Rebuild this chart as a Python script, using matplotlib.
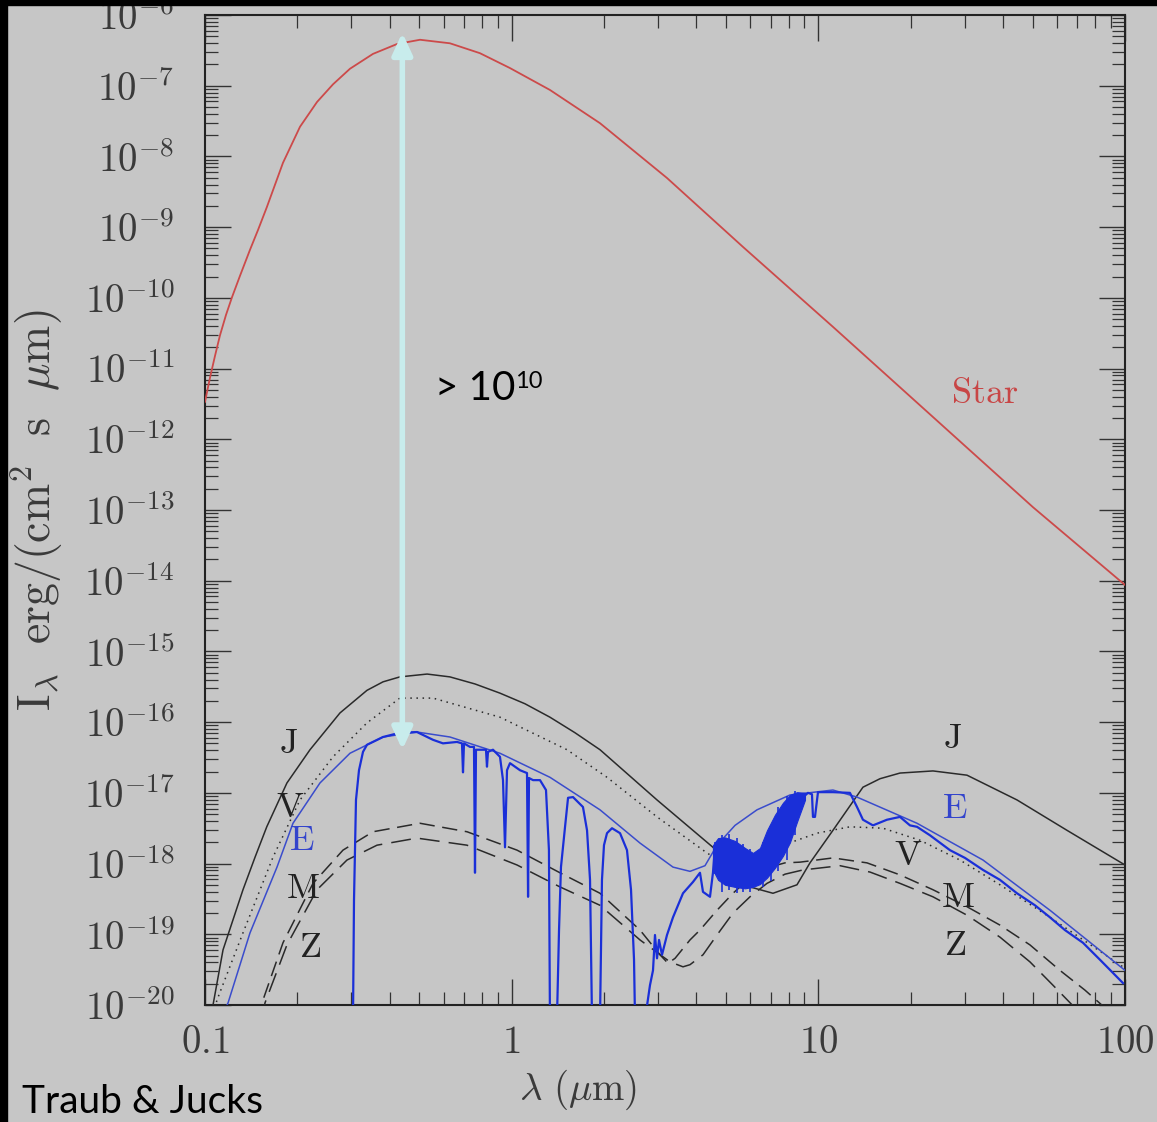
import numpy as np
import matplotlib
matplotlib.use('Agg')
import matplotlib.pyplot as plt
from matplotlib.patches import Rectangle
from matplotlib.ticker import LogLocator, NullFormatter

plt.rcParams['mathtext.fontset'] = 'cm'
plt.rcParams['font.family'] = ['DejaVu Serif']

# ---------------- data (wavelength in micron, log10 of I_lambda) ----------------
star_wl = [0.100, 0.1038, 0.1078, 0.1119, 0.1171, 0.1225, 0.1300, 0.1402, 0.1489, 0.159,
           0.1796, 0.2041, 0.2319, 0.2615, 0.297, 0.353, 0.423, 0.5024, 0.629, 0.788, 0.987,
           1.333, 1.941, 3.21, 5.68, 11.16, 23.65, 50.1, 100.0]
star_logI = [-11.47, -11.13, -10.82, -10.53, -10.24, -9.99, -9.69, -9.32, -9.04, -8.72,
             -8.09, -7.58, -7.23, -6.98, -6.76, -6.55, -6.41, -6.35, -6.40, -6.54, -6.75,
             -7.06, -7.53, -8.305, -9.28, -10.41, -11.685, -12.96, -14.06]

j_wl = [0.1046, 0.1062, 0.1145, 0.133, 0.1456, 0.159, 0.185, 0.220, 0.2462, 0.2755, 0.3375,
        0.3806, 0.432, 0.530, 0.629, 0.7593, 0.916, 1.105, 1.333, 1.609, 1.941, 2.978, 4.533,
        5.985, 7.114, 8.519, 9.392, 11.16, 13.98, 15.89, 18.46, 23.65, 30.53, 44.44, 64.70, 100.0]
j_logI = [-20.21, -20.0, -19.22, -18.37, -17.91, -17.48, -16.86, -16.39, -16.13, -15.87, -15.55,
          -15.43, -15.36, -15.32, -15.36, -15.46, -15.59, -15.74, -15.93, -16.15, -16.39, -17.10, -17.77,
          -18.33, -18.42, -18.30, -17.99, -17.53, -16.92, -16.80, -16.72, -16.69, -16.75, -17.10, -17.53, -18.02]

v_wl = [0.1054, 0.1094, 0.133, 0.1666, 0.2041, 0.2615, 0.3375, 0.432, 0.554, 0.916, 1.515,
        2.046, 2.978, 4.334, 5.349, 6.452, 7.670, 9.90, 12.68, 16.25, 21.45, 28.96, 39.10,
        56.92, 100.0]
v_logI = [-20.21, -19.93, -18.98, -17.91, -17.10, -16.49, -16.01, -15.66, -15.66, -15.93, -16.39,
          -16.78, -17.34, -17.85, -18.09, -17.95, -17.74, -17.57, -17.48, -17.50, -17.67, -17.95, -18.30,
          -18.76, -19.48]

e_smooth_wl = [0.1119, 0.1189, 0.1402, 0.1717, 0.1936, 0.2371, 0.297, 0.3806, 0.4913, 0.629,
               0.916, 1.333, 1.941, 2.621, 3.358, 3.815, 4.270, 4.673, 5.349, 6.309, 8.083,
               11.16, 13.37, 20.98, 34.43, 56.92, 100.0]
e_smooth_logI = [-20.21, -19.97, -18.98, -18.05, -17.43, -16.86, -16.44, -16.21, -16.14, -16.21,
                 -16.44, -16.78, -17.24, -17.71, -18.05, -18.11, -18.03, -17.74, -17.46, -17.24, -17.03,
                 -16.96, -17.06, -17.43, -17.95, -18.66, -19.51]

e_spec_wl = [0.3038, 0.3061, 0.3107, 0.3178, 0.3275, 0.3375, 0.3806, 0.432, 0.4913, 0.554, 0.597,
             0.6633, 0.6887, 0.6939, 0.6991, 0.7313, 0.7536, 0.7593, 0.765, 0.7883, 0.8246, 0.8308,
             0.8371, 0.8691, 0.916, 0.937, 0.9512, 0.9656, 0.9875, 1.0646, 1.122, 1.131, 1.139,
             1.174, 1.237, 1.294, 1.323, 1.333, 1.405, 1.427, 1.448, 1.493, 1.527, 1.585, 1.708,
             1.761, 1.801, 1.828, 1.941, 1.970, 2.000, 2.046, 2.124, 2.256, 2.377, 2.450, 2.506,
             2.525, 2.721, 2.825, 2.890, 2.933, 2.978, 3.023, 3.092, 3.210, 3.358, 3.620, 3.902,
             4.112, 4.206, 4.433, 4.533, 4.602, 4.778, 5.349, 5.985, 6.309, 6.801, 7.499, 8.083,
             8.713, 9.252, 9.534, 9.605, 9.751, 9.974, 11.16, 12.68, 13.37, 13.98, 15.07, 16.74,
             18.46, 19.90, 20.98, 23.12, 26.86, 30.07, 34.43, 39.10, 44.44, 50.86, 56.92, 63.68,
             72.94, 82.87, 98.5]
e_spec_logI = [-20.21, -18.52, -17.10, -16.68, -16.42, -16.32, -16.21, -16.15, -16.14, -16.25, -16.30,
               -16.28, -16.30, -16.71, -16.30, -16.35, -16.35, -18.13, -16.39, -16.39, -16.39, -16.63,
               -16.42, -16.39, -16.49, -16.82, -17.77, -16.68, -16.58, -16.68, -16.72, -18.47, -16.79,
               -16.82, -16.82, -16.96, -17.81, -20.21, -20.21, -18.94, -18.05, -17.48, -17.07, -17.06, -17.20,
               -17.53, -18.23, -20.21, -20.21, -18.23, -17.74, -17.57, -17.50, -17.57, -17.81, -18.37, -19.36,
               -20.21, -20.21, -19.72, -19.51, -19.01, -19.34, -19.08, -19.29, -19.01, -18.76, -18.42, -18.26,
               -18.13, -18.40, -18.47, -18.13, -17.77, -17.81, -18.02, -18.09, -18.09, -17.88, -17.57, -17.27,
               -17.10, -17.00, -17.02, -17.34, -17.34, -16.99, -16.99, -17.00, -17.20, -17.38, -17.46, -17.38,
               -17.34, -17.46, -17.48, -17.60, -17.81, -17.92, -18.09, -18.23, -18.42, -18.59, -18.76, -18.94,
               -19.12, -19.36, -19.69]

# dense water band region of the Earth spectrum (upper / lower envelopes)
band_wl = [4.533, 4.709, 4.963, 5.349, 5.767, 6.122, 6.452, 6.801, 7.222, 7.670, 8.083, 8.519, 9.046]
band_hi = [-17.74, -17.64, -17.63, -17.68, -17.78, -17.85, -17.78, -17.53, -17.31, -17.14, -17.03, -16.99, -17.00]
band_lo = [-18.09, -18.23, -18.30, -18.33, -18.35, -18.33, -18.29, -18.20, -18.06, -17.89, -17.70, -17.41, -17.10]

# individual noise streaks sticking out of the band: wavelength, top, bottom (log10 I)
streak_wl = [4.60, 4.85, 5.10, 5.45, 5.70, 6.00, 6.60, 7.00, 7.40, 7.90, 8.40]
streak_top = [-17.70, -17.60, -17.58, -17.64, -17.72, -17.80, -17.70, -17.45, -17.20, -17.05, -16.97]
streak_bot = [-18.15, -18.40, -18.38, -18.42, -18.40, -18.40, -18.33, -18.25, -18.10, -17.95, -17.60]

m_wl = [0.1489, 0.1534, 0.1796, 0.2250, 0.2818, 0.3530, 0.5024, 0.7151, 1.041, 1.437, 1.941,
        2.621, 3.046, 3.234, 3.410, 3.815, 4.112, 4.673, 5.269, 5.985, 6.801, 7.785, 8.713,
        11.16, 14.41, 18.46, 23.65, 30.53, 39.10, 48.98, 61.34, 74.04, 86.04, 92.75]
m_logI = [-20.21, -19.97, -19.12, -18.28, -17.81, -17.55, -17.43, -17.55, -17.81, -18.13, -18.42,
          -18.94, -19.29, -19.41, -19.34, -19.08, -18.94, -18.66, -18.42, -18.20, -18.06, -17.99, -17.98,
          -17.92, -17.99, -18.16, -18.37, -18.61, -18.87, -19.15, -19.51, -19.79, -20.04, -20.21]

z_wl = [0.1534, 0.1569, 0.185, 0.2319, 0.2904, 0.3638, 0.4913, 0.7151, 1.041, 1.437, 1.941,
        2.621, 3.283, 3.620, 3.815, 4.206, 4.673, 5.269, 5.985, 6.801, 7.785, 8.912, 11.77,
        14.74, 18.46, 23.65, 30.53, 39.10, 48.98, 58.22, 68.68, 71.32]
z_logI = [-20.21, -19.97, -19.15, -18.37, -17.95, -17.74, -17.64, -17.74, -18.02, -18.33, -18.59,
          -19.08, -19.39, -19.46, -19.43, -19.29, -19.01, -18.70, -18.47, -18.28, -18.15, -18.09, -18.03,
          -18.12, -18.28, -18.47, -18.73, -19.04, -19.39, -19.72, -20.04, -20.21]

# curve labels: (text, wavelength, log10 I, colour)
labels = [("J", 0.1865, -16.30, "#222222"), ("V", 0.1893, -17.20, "#222222"),
          ("E", 0.2072, -17.67, "#3344cc"), ("M", 0.209, -18.35, "#222222"),
          ("Z", 0.220, -19.18, "#222222"),
          ("J", 27.27, -16.22, "#222222"), ("E", 27.89, -17.21, "#3344cc"),
          ("V", 19.61, -17.88, "#222222"), ("M", 28.53, -18.47, "#222222"),
          ("Z", 27.89, -19.15, "#222222"), ("Star", 34.95, -11.35, "#c84646")]

arrow_wl = 0.440
arrow_top_logI = -6.25
arrow_bot_logI = -16.39

x_ticks = [0.1, 1, 10, 100]
x_ticklabels = ["0.1", "1", "10", "100"]
y_exponents = list(range(-20, -5))

# ---------------- figure ----------------
BG = '#c6c6c6'
W, H = 1157, 1122
fig = plt.figure(figsize=(W / 100, H / 100), dpi=100, facecolor=BG)
ax = fig.add_axes([205 / W, 1 - 1005 / H, 920 / W, 990 / H], facecolor=BG)

def P(v):
    return 10.0 ** np.asarray(v)

BLUE = '#1a2fd8'
ax.plot(star_wl, P(star_logI), color='#cc4a4a', lw=1.3, zorder=3)
ax.plot(j_wl, P(j_logI), color='#2a2a2a', lw=1.1, zorder=3)
ax.plot(v_wl, P(v_logI), color='#2a2a2a', lw=1.1, ls=(0, (1, 3)), zorder=3)
ax.plot(m_wl, P(m_logI), color='#2a2a2a', lw=1.1, ls=(0, (10, 5)), zorder=3)
ax.plot(z_wl, P(z_logI), color='#2a2a2a', lw=1.1, ls=(0, (13, 6)), zorder=3)
ax.plot(e_smooth_wl, P(e_smooth_logI), color='#3a4ccc', lw=1.1, zorder=4)
ax.fill_between(band_wl, P(band_lo), P(band_hi), color=BLUE, lw=0.8, edgecolor=BLUE, zorder=4)
ax.vlines(streak_wl, P(streak_bot), P(streak_top), color=BLUE, lw=1.2, zorder=4)
ax.plot(e_spec_wl, P(e_spec_logI), color=BLUE, lw=1.6, zorder=4)

for txt, xw, yl, col in labels:
    ax.text(xw, 10.0 ** yl, r'$\mathrm{%s}$' % txt, color=col, fontsize=26,
            ha='center', va='center', zorder=5)

ax.annotate('', xy=(arrow_wl, 10.0 ** arrow_bot_logI), xytext=(arrow_wl, 10.0 ** arrow_top_logI),
            arrowprops=dict(arrowstyle='<|-|>,head_length=0.65,head_width=0.3', color='#c8ecec',
                            lw=4, mutation_scale=20, shrinkA=0, shrinkB=0), zorder=6)

ax.set_xscale('log')
ax.set_yscale('log')
ax.set_xlim(0.1, 100)
ax.set_ylim(1e-20, 1e-6)
ax.set_xticks(x_ticks)
ax.set_xticklabels([r'$%s$' % s for s in x_ticklabels])
ax.set_yticks([10.0 ** k for k in y_exponents])
ax.set_yticklabels([r'$10^{%d}$' % k for k in y_exponents])
ax.xaxis.set_minor_locator(LogLocator(base=10, subs=np.arange(2, 10), numticks=100))
ax.yaxis.set_minor_locator(LogLocator(base=10, subs=np.arange(2, 10), numticks=100))
ax.xaxis.set_minor_formatter(NullFormatter())
ax.yaxis.set_minor_formatter(NullFormatter())
ax.tick_params(which='major', direction='in', length=19, width=1.0, top=True, right=True,
               color='#333333', labelsize=28, labelcolor='#3a3a3a', pad=14)
ax.tick_params(axis='y', which='major', pad=22)
ax.tick_params(which='minor', direction='in', length=9.5, width=0.9, top=True, right=True,
               color='#333333')
for s in ax.spines.values():
    s.set_linewidth(1.5)
    s.set_color('#222222')

fig.text(578 / W, 1 - 1090 / H, r'$\lambda\ (\mu\mathrm{m})$', fontsize=28, color='#3a3a3a',
         ha='center', va='center')
fig.text(37 / W, 1 - 510 / H, r'$\mathrm{I}_\lambda\ \ \mathrm{erg/(cm^2\ \ s}\ \ \mu\mathrm{m)}$',
         fontsize=33, color='#3a3a3a', ha='center', va='center', rotation=90)

fig.text(22 / W, 1 - 1113 / H, 'Traub & Jucks', fontsize=28, family='Lato', color='black',
         ha='left', va='baseline')
fig.text(435 / W, 1 - 400 / H, '> 10', fontsize=29, family='Lato', color='black',
         ha='left', va='baseline')
fig.text(515 / W, 1 - 388 / H, '10', fontsize=17, family='Lato', color='black',
         ha='left', va='baseline')

fig.patches.append(Rectangle((0, 0), 7 / W, 1, transform=fig.transFigure, color='black', zorder=20))
fig.patches.append(Rectangle((0, 1 - 5 / H), 1, 5 / H, transform=fig.transFigure, color='black', zorder=20))

fig.savefig('out.png', dpi=100, facecolor=BG)
